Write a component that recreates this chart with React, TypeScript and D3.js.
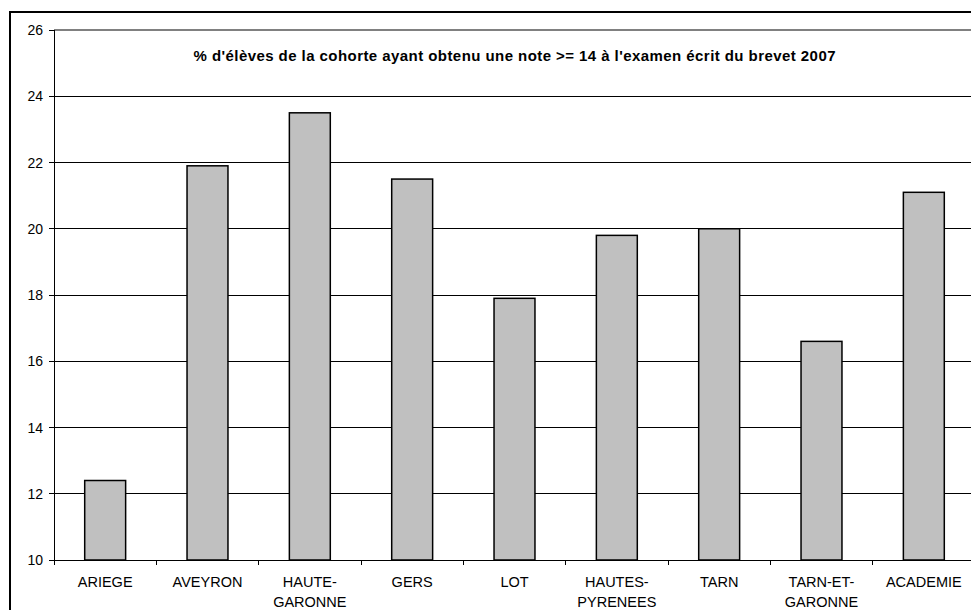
import React from "react";
import * as d3 from "d3";

const categories: string[][] = [
  ["ARIEGE"],
  ["AVEYRON"],
  ["HAUTE-", "GARONNE"],
  ["GERS"],
  ["LOT"],
  ["HAUTES-", "PYRENEES"],
  ["TARN"],
  ["TARN-ET-", "GARONNE"],
  ["ACADEMIE"],
];
const values: number[] = [12.4, 21.9, 23.5, 21.5, 17.9, 19.8, 20.0, 16.6, 21.1];
const yTicks: number[] = [10, 12, 14, 16, 18, 20, 22, 24, 26];
const title = "% d'élèves de la cohorte ayant obtenu une note >= 14 à l'examen écrit du brevet 2007";

const W = 971;
const H = 610;
const left = 54;
const right = 975;
const top = 30;
const bottom = 560;
const font = "'Liberation Sans', Arial, sans-serif";

export default function App() {
  const keys = categories.map((c) => c.join(""));
  const x = d3.scaleBand<string>().domain(keys).range([left, right]).paddingInner(0.6).paddingOuter(0.3);
  const xb = d3.scaleBand<string>().domain(keys).range([left, right]);
  const y = d3.scaleLinear().domain([10, 26]).range([bottom, top]);

  return (
    <svg
      width={W}
      height={H}
      style={{ position: "absolute", left: 0, top: 0, background: "#fff" }}
      fontFamily={font}
    >
      <rect x={0} y={0} width={W} height={H} fill="#fff" />
      <rect x={10} y={12} width={W + 50} height={H + 50} fill="#fff" stroke="#000" strokeWidth={2} />
      {/* gridlines */}
      {yTicks.slice(1).map((t) => (
        <line
          key={t}
          x1={left}
          x2={right}
          y1={y(t)}
          y2={y(t)}
          stroke={t === 26 ? "#808080" : "#000"}
          strokeWidth={t === 26 ? 1.5 : 1}
          shapeRendering="crispEdges"
        />
      ))}
      {/* bars */}
      {values.map((v, i) => (
        <rect
          key={keys[i]}
          x={x(keys[i])!}
          y={y(v)}
          width={x.bandwidth()}
          height={y(10) - y(v)}
          fill="#C0C0C0"
          stroke="#000"
          strokeWidth={1.5}
        />
      ))}
      {/* axes */}
      <line x1={left} x2={left} y1={top} y2={bottom} stroke="#000" strokeWidth={1} shapeRendering="crispEdges" />
      <line x1={left} x2={right} y1={bottom} y2={bottom} stroke="#000" strokeWidth={1} shapeRendering="crispEdges" />
      {yTicks.map((t) => (
        <g key={t}>
          <line x1={left - 5} x2={left} y1={y(t)} y2={y(t)} stroke="#000" shapeRendering="crispEdges" />
          <text x={43} y={y(t)} dy="0.36em" textAnchor="end" fontSize={14} fill="#000">
            {t}
          </text>
        </g>
      ))}
      {keys.map((k) => (
        <line
          key={k}
          x1={xb(k)!}
          x2={xb(k)!}
          y1={bottom}
          y2={bottom + 5}
          stroke="#000"
          shapeRendering="crispEdges"
        />
      ))}
      {categories.map((lines, i) => (
        <text
          key={keys[i]}
          x={xb(keys[i])! + xb.bandwidth() / 2}
          textAnchor="middle"
          fontSize={14.5}
          fill="#000"
        >
          {lines.map((l, j) => (
            <tspan key={j} x={xb(keys[i])! + xb.bandwidth() / 2} y={587 + j * 19.5}>
              {l}
            </tspan>
          ))}
        </text>
      ))}
      <text
        x={(left + right) / 2}
        y={61}
        textAnchor="middle"
        fontSize={15}
        fontWeight="bold"
        fill="#000"
        textLength={642}
        lengthAdjust="spacing"
      >
        {title}
      </text>
    </svg>
  );
}
